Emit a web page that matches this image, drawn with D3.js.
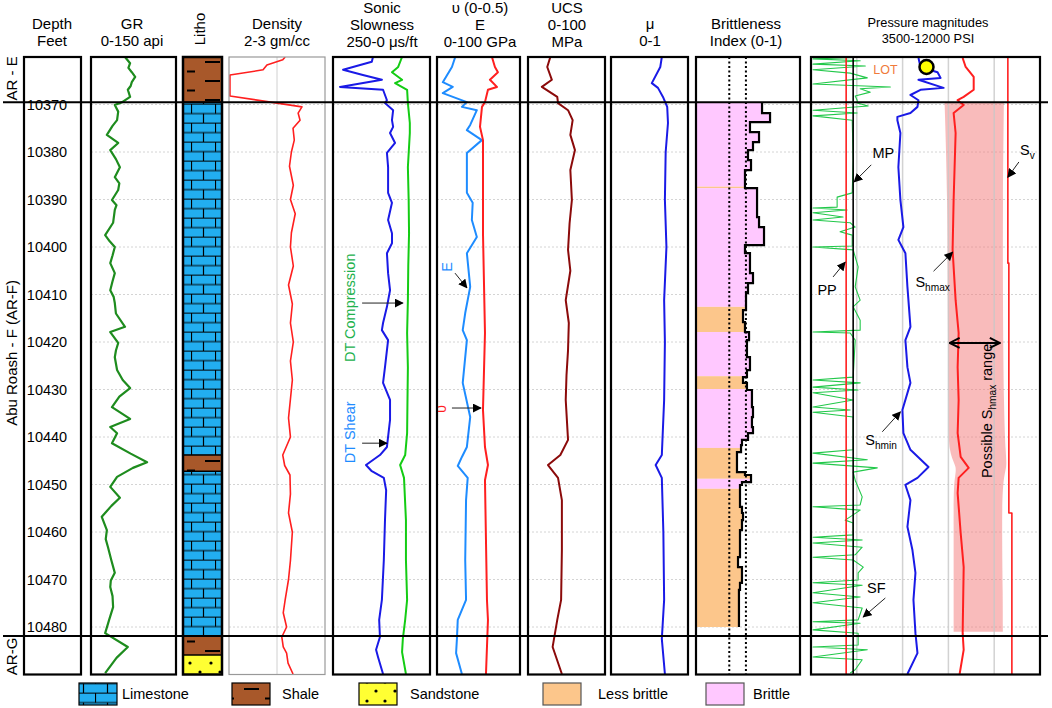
<!DOCTYPE html>
<html><head><meta charset="utf-8">
<script src="https://cdn.jsdelivr.net/npm/d3@7"></script>
<style>body{margin:0;background:#fff} svg{display:block;font-family:Arial,"Liberation Sans",sans-serif}</style>
</head><body><svg id="c" width="1052" height="708"></svg>
<script>
// ---------------- DATA ----------------
const depthDomain = [10360, 10490];
const depthTicks = [10370,10380,10390,10400,10410,10420,10430,10440,10450,10460,10470,10480];
const formationTops = [10369.5, 10481.9];
const zoneNames = ["AR - E", "Abu Roash - F (AR-F)", "AR-G"];
const zoneCenters = [10364.5, 10422.3, 10486.2];

const trackTitles = [
  ["Depth","Feet"], ["GR","0-150 api"], ["Litho"], ["Density","2-3 gm/cc"],
  ["Sonic","Slowness","250-0 μs/ft"], ["υ (0-0.5)","E","0-100 GPa"], ["UCS","0-100","MPa"],
  ["μ","0-1"], ["Brittleness","Index (0-1)"], ["Pressure magnitudes","3500-12000 PSI"]
];

// lithology intervals [top, bottom, type]
const lithoTops    = [10360, 10369.5, 10443.8, 10447.2, 10481.9, 10485.9];
const lithoBottoms = [10369.5, 10443.8, 10447.2, 10481.9, 10485.9, 10490];
const lithoTypes   = ["Shale","Limestone","Shale","Limestone","Shale","Sandstone"];

// GR [depth, api]
const grLog = [[10360,60],[10361.3,69],[10362.3,66],[10363.2,72],[10364.2,78],[10365.3,72],[10366.1,70],[10366.9,65],[10368.4,69],[10369.5,55],[10370.1,42],[10371.5,48],[10373.3,46],[10374.5,38],[10376.4,28],[10378.1,48],[10379.6,34],[10381.5,44],[10383.2,51],[10385.3,42],[10386.6,50],[10388,48],[10390.1,37],[10391.2,45],[10392.2,42],[10394.9,39],[10397.5,25],[10398.8,33],[10400,42],[10401.8,38],[10403.4,34],[10405.5,42],[10407.2,38],[10409.1,34],[10410.5,40],[10411.8,42],[10414,44],[10416.8,60],[10417.9,34],[10420.2,48],[10421.8,44],[10423.2,42],[10425.9,46],[10428,56],[10429.7,69],[10431.5,50],[10433.7,37],[10436.2,69],[10437.9,34],[10439.2,46],[10441.3,37],[10443.5,70],[10445.3,99],[10446.5,74],[10448.4,46],[10450.5,34],[10452.8,51],[10454.5,36],[10456.8,19],[10459.6,28],[10461.5,26],[10463.2,30],[10466,36],[10468.6,42],[10470.2,35],[10471.6,34],[10473.5,38],[10475.8,39],[10478.5,32],[10481.3,25],[10484.2,65],[10486.5,45],[10489.7,25]];

// Density [depth, g/cc]
const densLog = [[10360,2.585],[10360.6,2.56],[10361.7,2.395],[10362.7,2.355],[10363.8,2.01],[10368.2,2.01],[10370.5,2.76],[10371.8,2.72],[10373.3,2.74],[10375,2.667],[10377.5,2.68],[10380,2.65],[10383,2.63],[10387,2.67],[10390,2.64],[10393,2.69],[10397,2.65],[10400,2.64],[10404,2.67],[10408,2.62],[10412,2.66],[10416,2.64],[10420,2.67],[10424,2.64],[10428,2.66],[10432,2.64],[10436,2.62],[10440,2.64],[10443.8,2.56],[10446,2.58],[10448,2.635],[10452,2.64],[10456,2.62],[10460,2.66],[10466,2.64],[10470,2.62],[10474.3,2.585],[10477,2.565],[10480,2.6],[10482.1,2.55],[10484.2,2.565],[10485.5,2.60],[10487.6,2.615],[10489.9,2.667]];

// Sonic slowness [depth, us/ft]
const dtShear = [[10360,147],[10361,150],[10362.7,224],[10363.8,173],[10364.8,124],[10366.3,232],[10366.9,121],[10369.1,111],[10369.7,116],[10371.2,95],[10373.3,98],[10374.7,95],[10376,103],[10378.1,90],[10380.2,111],[10383.2,108],[10388.6,108],[10390.7,98],[10394.3,108],[10397.1,98],[10399.2,98],[10401.3,111],[10405.5,108],[10409.1,103],[10412.6,111],[10416,121],[10417.5,124],[10419.6,108],[10425.3,116],[10428.6,121],[10432.2,103],[10436.4,103],[10442.1,111],[10443.8,129],[10445.9,165],[10447.2,150],[10448.6,119],[10451.2,113],[10457.5,116],[10465.9,119],[10474.3,124],[10478.5,131],[10482.1,129],[10484.8,139],[10486.3,134],[10489.9,121]];
const dtComp = [[10360,72],[10362.1,82],[10363.2,98],[10364.8,72],[10365.5,90],[10366.9,59],[10369.7,57],[10373.9,52],[10376,52],[10383.2,57],[10390,55],[10397.1,54],[10404,56],[10411.2,57],[10418.1,59],[10425.3,57],[10432,58],[10439.2,59],[10443.8,64],[10445.9,77],[10448.6,67],[10457.5,62],[10465.9,62],[10474.3,59],[10478.5,64],[10482.5,70],[10485.3,72],[10489.9,62]];

// Young's modulus E [depth, GPa] and Poisson's ratio [depth, -]
const eLog = [[10360,22],[10362.1,18],[10365.3,7],[10366.3,19],[10367.6,7],[10369.5,36],[10370.5,30],[10371.2,48],[10374.3,40],[10375.4,36],[10377.5,54],[10380.2,36],[10388.6,36],[10390.7,43],[10394.3,42],[10397.9,48],[10401.3,36],[10408.4,40],[10413.9,34],[10417.5,31],[10419.6,36],[10428.6,31],[10435.8,40],[10442.1,36],[10444.2,30],[10446.1,25],[10448.6,37],[10453.3,35],[10465.9,34],[10474.3,35],[10478.5,25],[10482.5,24],[10485.5,23],[10489.9,30]];
const nuLog = [[10360,0.331],[10362.1,0.349],[10363.2,0.367],[10364.8,0.319],[10366.3,0.361],[10366.9,0.307],[10369.5,0.289],[10370.5,0.271],[10374.7,0.259],[10377.5,0.277],[10397.1,0.277],[10418.1,0.289],[10434.3,0.277],[10442.1,0.289],[10445.9,0.307],[10449.1,0.289],[10474.3,0.301],[10478.5,0.307],[10484.2,0.301],[10489.9,0.295]];

// UCS [depth, MPa]
const ucsLog = [[10360,29],[10362.1,25],[10364.8,31],[10366.3,18],[10368.4,38],[10369.7,39],[10371.2,52],[10373.3,58],[10376.4,55],[10379.6,61],[10383.8,55],[10390.1,57],[10395,54],[10400.6,52],[10405,55],[10411.2,49],[10416,53],[10421.7,52],[10427,50],[10432.2,49],[10440.6,52],[10443.8,42],[10445.9,26],[10448.6,39],[10453.3,44],[10463.8,44],[10474.3,43],[10478.5,38],[10484.2,32],[10489.9,44]];

// friction coefficient mu [depth, -]
const muLog = [[10360,0.66],[10362.1,0.64],[10365.5,0.53],[10366.5,0.61],[10368.4,0.675],[10370.5,0.73],[10373.9,0.74],[10380,0.71],[10390.1,0.70],[10400,0.72],[10411.2,0.69],[10420,0.70],[10432.2,0.69],[10443.8,0.66],[10445.9,0.58],[10448.6,0.66],[10460,0.68],[10474.3,0.69],[10482.5,0.66],[10489.9,0.70]];

// Brittleness index steps [depth from, BI]
const biLog = [[10369.5,0.635],[10371.8,0.712],[10373.7,0.519],[10375.8,0.606],[10377.9,0.548],[10379.6,0.5],[10381.7,0.529],[10383.8,0.471],[10387.6,0.587],[10393.7,0.606],[10395.8,0.654],[10399.6,0.471],[10401.3,0.519],[10405.5,0.548],[10407.6,0.5],[10409.7,0.481],[10413.3,0.452],[10415.8,0.471],[10417.9,0.51],[10419.6,0.49],[10423.2,0.519],[10425.9,0.49],[10427.4,0.452],[10428.6,0.49],[10430.1,0.538],[10433.7,0.548],[10435.8,0.538],[10437.9,0.548],[10439.2,0.5],[10440.6,0.442],[10441.7,0.433],[10443.2,0.394],[10447.4,0.471],[10448,0.529],[10449.5,0.442],[10450.1,0.423],[10454.7,0.442],[10456,0.452],[10457.5,0.442],[10459.6,0.423],[10465.3,0.404],[10467.4,0.442],[10470.7,0.423],[10472.2,0.413],[10480,0.413]];
const biCutoffs = [0.32, 0.48];
const biClassTops    = [10369.5,10387.3,10387.6,10412.6,10417.9,10427.2,10429.9,10442.3,10448.8,10450.9];
const biClassBottoms = [10387.3,10387.6,10412.6,10417.9,10427.2,10429.9,10442.3,10448.8,10450.9,10480];
const biClasses      = ["Brittle","Less brittle","Brittle","Less brittle","Brittle","Less brittle","Brittle","Less brittle","Brittle","Less brittle"];

// Pressure magnitudes [depth, psi]
const ppLog = [[10360,4805],[10490,4805]];
const mpLog = [[10360,5065],[10490,5065]];
const svLog = [[10360,10807],[10403.4,10807],[10403.4,10844],[10456,10844],[10456,10956],[10490,10956]];
const shminLog = [[10360.2,7489],[10362.1,7564],[10363.2,8197],[10364.4,8309],[10364.8,7489],[10366.5,8421],[10366.9,7564],[10368,7191],[10369.1,7489],[10370.5,7452],[10371.8,7191],[10372.6,6706],[10373.3,6706],[10376,6818],[10383.2,6743],[10390.1,6818],[10395.8,6930],[10398.5,6743],[10401.3,7004],[10408.4,7079],[10416.8,7191],[10419.6,7004],[10425.3,7079],[10428.6,7191],[10434.3,6892],[10439.2,6930],[10442.7,7191],[10446.3,7862],[10448.6,7452],[10450.1,7004],[10453.3,7191],[10458.9,7079],[10463.8,7265],[10468.6,7377],[10474.3,7303],[10481.3,7377],[10485.5,7452],[10489.9,7079]];
const shmaxLog = [[10360.2,9129],[10362.1,9241],[10364.2,9539],[10366.9,9539],[10368.4,9167],[10369.1,8943],[10370.1,9167],[10371.8,8794],[10376,8868],[10390.1,8794],[10400.6,8756],[10411.2,8868],[10418.1,8980],[10425.3,8943],[10432.2,8980],[10439.2,8943],[10444.2,9055],[10446.5,9353],[10448.6,8980],[10451.8,8943],[10460.2,9055],[10467.4,9167],[10481.3,9129],[10484.8,9167],[10489.9,9017]];
const shmaxRangeLow  = [[10369.5,8458],[10390,8570],[10411,8570],[10435,8607],[10443.8,8607],[10446.3,8943],[10449,8794],[10457.5,8794],[10474,8794],[10481,8794]];
const shmaxRangeHigh = [[10369.5,10658],[10390,10620],[10411,10620],[10435,10658],[10443.8,10732],[10446.3,10770],[10449,10620],[10457.5,10583],[10474,10620],[10481,10620]];
const sfLog = [[10360,5590],[10360.4,3575],[10360.8,5325],[10361.5,3575],[10361.9,5515],[10362.7,3575],[10363.4,4955],[10364.4,5590],[10365.7,3575],[10366.3,6445],[10366.7,5325],[10367.4,5700],[10368.2,5140],[10369.1,5215],[10369.7,5215],[10370.3,5625],[10370.7,4770],[10371.2,3575],[10371.8,5215],[10372.4,3575],[10373.3,5030],[10381.7,5065],[10388.6,5030],[10389.5,4470],[10391.6,4470],[10391.8,3575],[10392.2,4840],[10392.8,3575],[10393.7,4690],[10394.3,3575],[10394.9,4955],[10395.8,5140],[10396.8,4580],[10397.5,5030],[10399.8,5030],[10400,3575],[10400.6,5065],[10404.2,5250],[10408.4,5140],[10411.2,5325],[10412.6,5065],[10415.4,5325],[10417.5,5325],[10417.9,3575],[10418.1,4955],[10419.6,5140],[10427.4,5065],[10428,3575],[10428.6,5325],[10429.5,3575],[10430.1,5250],[10430.7,3575],[10432.2,5065],[10433.7,3575],[10434.3,4955],[10434.8,3575],[10435.8,5065],[10442.7,5065],[10443.4,3575],[10444.8,5590],[10445.5,3575],[10446.5,5960],[10447.4,5065],[10449.1,5140],[10452.6,5400],[10454.3,5325],[10454.7,3575],[10455.4,5325],[10457.5,4770],[10458.1,5065],[10460.6,5065],[10461.1,3575],[10461.7,5400],[10462.3,3575],[10463.2,5400],[10464.8,5140],[10465.3,3575],[10465.9,5065],[10467.4,5440],[10468.6,5250],[10470.1,5250],[10470.7,3575],[10471.2,5400],[10472.8,3575],[10473.7,5325],[10474.9,3575],[10476,5400],[10478.5,5250],[10478.9,3575],[10479.2,5325],[10480.6,3575],[10481.3,5250],[10483.8,5250],[10484.2,3575],[10484.8,5590],[10486.3,3575],[10486.9,5400],[10489,5140],[10489.7,4955]];
const lotPoint = [10362.1, 7787];

const legendItems = ["Limestone","Shale","Sandstone","Less brittle","Brittle"];

// ---------------- LAYOUT ----------------
const svg = d3.select("#c");
const F = 'Arial, "Liberation Sans", sans-serif';
const y = d3.scaleLinear().domain(depthDomain).range([57, 674.5]);
const T = {
  depth:[24,81], gr:[91,176], litho:[183,222], dens:[229,325], sonic:[333,430],
  emod:[437,520], ucs:[528,605], mu:[611,688], bi:[696,800], press:[811,1040]
};
const titleX = [52,132,203,277,382,480,567,650,746,928];
const xGR = d3.scaleLinear([0,150], T.gr);
const xDen = d3.scaleLinear([2,3], T.dens);
const xDT = d3.scaleLinear([250,0], T.sonic);
const xE = d3.scaleLinear([0,100], T.emod);
const xNu = d3.scaleLinear([0,0.5], T.emod);
const xUCS = d3.scaleLinear([0,100], T.ucs);
const xMu = d3.scaleLinear([0,1], T.mu);
const xBI = d3.scaleLinear([0,1], T.bi);
const xP = d3.scaleLinear([3500,12000], T.press);

const defs = svg.append("defs");
// clip paths per track
Object.entries(T).forEach(([k,[a,b]])=>{
  defs.append("clipPath").attr("id","clip-"+k).append("rect")
    .attr("x",a).attr("y",y(depthDomain[0])).attr("width",b-a).attr("height",y(depthDomain[1])-y(depthDomain[0]));
});
// patterns
const lime = defs.append("pattern").attr("id","pLime").attr("patternUnits","userSpaceOnUse")
  .attr("x",191).attr("y",y(10369.5)+1.5).attr("width",24).attr("height",19);
lime.append("rect").attr("width",24).attr("height",19).attr("fill","#22aef0");
lime.append("path").attr("d","M0,0.5H24M0,10H24M0.5,0V10M12.5,10V19").attr("stroke","#000").attr("stroke-width",1.2).attr("fill","none");
const shale = defs.append("pattern").attr("id","pShale").attr("patternUnits","userSpaceOnUse")
  .attr("x",183).attr("y",57).attr("width",39).attr("height",19);
shale.append("rect").attr("width",39).attr("height",19).attr("fill","#a8582a");
shale.append("path").attr("d","M22,5H37M4,14.5H12").attr("stroke","#000").attr("stroke-width",2);
const sand = defs.append("pattern").attr("id","pSand").attr("patternUnits","userSpaceOnUse")
  .attr("x",183).attr("y",y(10485.9)).attr("width",39).attr("height",19);
sand.append("rect").attr("width",39).attr("height",19).attr("fill","#ffff33");
[[7,8],[28,8],[17,17],[37,17]].forEach(p=>sand.append("circle").attr("cx",p[0]).attr("cy",p[1]).attr("r",1.6).attr("fill","#000"));
const lithoFill = {Limestone:"url(#pLime)", Shale:"url(#pShale)", Sandstone:"url(#pSand)"};
const classFill = {"Brittle":"#ffc8ff","Less brittle":"#fcc68b"};

// markers
const mk = defs.append("marker").attr("id","arr").attr("viewBox","0 0 10 10").attr("refX",9).attr("refY",5)
  .attr("markerWidth",9).attr("markerHeight",9).attr("markerUnits","userSpaceOnUse").attr("orient","auto");
mk.append("path").attr("d","M0,0L10,5L0,10z").attr("fill","#000");
const mk2 = defs.append("marker").attr("id","chev").attr("viewBox","0 0 12 12").attr("refX",11).attr("refY",6)
  .attr("markerWidth",12).attr("markerHeight",12).attr("markerUnits","userSpaceOnUse").attr("orient","auto-start-reverse");
mk2.append("path").attr("d","M1,1L11,6L1,11").attr("fill","none").attr("stroke","#000").attr("stroke-width",2);

// ---------------- TITLES ----------------
trackTitles.forEach((lines,i)=>{
  if (i===2){
    svg.append("text").attr("transform",`translate(${titleX[i]+2},29) rotate(-90)`).attr("text-anchor","middle")
      .attr("font-family",F).attr("font-size",15).text(lines[0]);
    return;
  }
  const small = i===9;
  const fs = small?12.8:15;
  const lh = small?16:17;
  const base = lines.length===3?13:(small?27:29);
  lines.forEach((t,j)=>{
    svg.append("text").attr("x",titleX[i]).attr("y",base+j*lh).attr("text-anchor","middle")
      .attr("font-family",F).attr("font-size",fs).text(t);
  });
});

// zone labels
zoneNames.forEach((n,i)=>{
  svg.append("text").attr("transform",`translate(17,${y(zoneCenters[i])}) rotate(-90)`).attr("text-anchor","middle")
    .attr("font-family",F).attr("font-size",15).text(n);
});

// depth labels
depthTicks.forEach(d=>{
  svg.append("text").attr("x",47).attr("y",y(d)).attr("dy","0.36em").attr("text-anchor","middle")
    .attr("font-family",F).attr("font-size",14.5).text(d);
});

// ---------------- LITHO ----------------
lithoTypes.forEach((t,i)=>{
  svg.append("rect").attr("x",T.litho[0]).attr("width",T.litho[1]-T.litho[0])
    .attr("y",y(lithoTops[i])).attr("height",y(lithoBottoms[i])-y(lithoTops[i])).attr("fill",lithoFill[t]);
});
// boundaries between litho units
lithoTops.slice(1).forEach(d=>{
  svg.append("line").attr("x1",T.litho[0]).attr("x2",T.litho[1]).attr("y1",y(d)).attr("y2",y(d)).attr("stroke","#000").attr("stroke-width",1.5);
});

// ---------------- GRIDS ----------------
["gr","dens","sonic","emod","ucs","mu","bi","press"].forEach(k=>{
  depthTicks.forEach(d=>{
    svg.append("line").attr("x1",T[k][0]).attr("x2",T[k][1]).attr("y1",y(d)).attr("y2",y(d))
      .attr("stroke","#d4d4d4").attr("stroke-width",1).attr("stroke-dasharray","2,2");
  });
});
svg.append("line").attr("x1",xDen(2.5)).attr("x2",xDen(2.5)).attr("y1",y(depthDomain[0])).attr("y2",y(depthDomain[1])).attr("stroke","#d0d0d0");

// pressure band
const bandArea = d3.area().y((d,i)=>y(d[0])).x0((d,i)=>xP(shmaxRangeLow[i][1])).x1(d=>xP(d[1])).curve(d3.curveBasis);
svg.append("path").datum(shmaxRangeHigh).attr("d",bandArea).attr("fill","#f47878").attr("opacity",0.5);
// pressure vertical grid
[5200,6900,8600,10300].forEach(p=>{
  svg.append("line").attr("x1",xP(p)).attr("x2",xP(p)).attr("y1",y(depthDomain[0])).attr("y2",y(depthDomain[1]))
    .attr("stroke","#c8c8c8").attr("stroke-width",1.5).attr("opacity",0.8);
});

// ---------------- BRITTLENESS ----------------
const biArea = d3.area().y(d=>y(d[0])).x0(xBI(0)).x1(d=>xBI(d[1])).curve(d3.curveStepBefore);
defs.append("clipPath").attr("id","biClip").append("path").datum(biLog).attr("d",biArea);
const gBI = svg.append("g").attr("clip-path","url(#biClip)");
biClasses.forEach((c,i)=>{
  gBI.append("rect").attr("x",T.bi[0]).attr("width",T.bi[1]-T.bi[0]).attr("y",y(biClassTops[i]))
    .attr("height",Math.max(1,y(biClassBottoms[i])-y(biClassTops[i]))).attr("fill",classFill[c]);
});
biCutoffs.forEach(v=>{
  svg.append("line").attr("x1",xBI(v)).attr("x2",xBI(v)).attr("y1",y(depthDomain[0])).attr("y2",y(depthDomain[1]))
    .attr("stroke","#000").attr("stroke-width",2).attr("stroke-dasharray","2,2.5");
});
svg.append("path").datum(biLog).attr("d",d3.line().y(d=>y(d[0])).x(d=>xBI(d[1])).curve(d3.curveStepBefore))
  .attr("fill","none").attr("stroke","#000").attr("stroke-width",2.2);

// ---------------- CURVES ----------------
function curve(data, xs, color, w, clip){
  svg.append("path").datum(data).attr("clip-path",`url(#clip-${clip})`)
    .attr("d", d3.line().y(d=>y(d[0])).x(d=>xs(d[1])))
    .attr("fill","none").attr("stroke",color).attr("stroke-width",w).attr("stroke-linejoin","round");
}
curve(grLog, xGR, "#1e8c1e", 2.2, "gr");
curve(densLog, xDen, "#ff1f1f", 1.6, "dens");
curve(dtShear, xDT, "#1a1ae6", 2, "sonic");
curve(dtComp, xDT, "#14cc14", 2, "sonic");
curve(eLog, xE, "#1e8cff", 2, "emod");
curve(nuLog, xNu, "#ff1f1f", 2, "emod");
curve(ucsLog, xUCS, "#8b0a0a", 2, "ucs");
curve(muLog, xMu, "#1a1ae6", 2, "mu");
curve(sfLog, xP, "#22c84a", 1.1, "press");
curve(ppLog, xP, "#ff1f1f", 1.6, "press");
curve(mpLog, xP, "#000", 1.6, "press");
curve(svLog, xP, "#ff1f1f", 1.6, "press");
curve(shminLog, xP, "#1a1ae6", 2, "press");
curve(shmaxLog, xP, "#ff1f1f", 2, "press");

// LOT point
svg.append("circle").attr("cx",xP(lotPoint[1])).attr("cy",y(lotPoint[0])).attr("r",7)
  .attr("fill","#ffff00").attr("stroke","#000").attr("stroke-width",2.5);

// ---------------- TRACK BORDERS ----------------
Object.entries(T).forEach(([k,[a,b]])=>{
  if (k==="litho"){
    svg.append("rect").attr("x",a).attr("y",y(depthDomain[0])).attr("width",b-a).attr("height",y(depthDomain[1])-y(depthDomain[0]))
      .attr("fill","none").attr("stroke","#000").attr("stroke-width",2.5);
    return;
  }
  const gray = k==="dens";
  svg.append("rect").attr("x",a).attr("y",y(depthDomain[0])).attr("width",b-a).attr("height",y(depthDomain[1])-y(depthDomain[0]))
    .attr("fill","none").attr("stroke",gray?"#999":"#000").attr("stroke-width",gray?1.2:2.2);
});

// formation boundaries
formationTops.forEach(d=>{
  svg.append("line").attr("x1",3).attr("x2",1048).attr("y1",y(d)).attr("y2",y(d)).attr("stroke","#000").attr("stroke-width",2);
});

// ---------------- ANNOTATIONS ----------------
function arrow(x1,y1,x2,y2,w){
  svg.append("line").attr("x1",x1).attr("y1",y1).attr("x2",x2).attr("y2",y2)
    .attr("stroke","#222").attr("stroke-width",w||1).attr("marker-end","url(#arr)");
}
function label(x,yy,main,sub,opts){
  opts=opts||{};
  const t = svg.append("text").attr("x",x).attr("y",yy).attr("font-family",F).attr("font-size",opts.fs||14.5)
    .attr("fill",opts.color||"#000").attr("text-anchor",opts.anchor||"start");
  if (opts.rot) t.attr("transform",`rotate(-90,${x},${yy})`);
  t.append("tspan").text(main);
  if (sub){ t.append("tspan").attr("dy",4).attr("font-size",(opts.fs||14.5)*0.7).text(sub); }
  if (opts.after){ t.append("tspan").attr("dy",-4).text(opts.after); }
  return t;
}
// sonic track
label(xDT(193), y(10412.8), "DT Compression", null, {rot:true, anchor:"middle", color:"#22b14c"});
arrow(xDT(175), y(10411.8), xDT(70), y(10411.8));
label(xDT(193), y(10439), "DT Shear", null, {rot:true, anchor:"middle", color:"#1e8cff"});
arrow(xDT(175), y(10441.3), xDT(111), y(10441.3));
// E track
label(xE(18.5), y(10404.2), "E", null, {rot:true, anchor:"middle", color:"#1e8cff"});
arrow(xE(21.7), y(10405.5), xE(36), y(10408.6));
label(xNu(0.055), y(10434.1), "υ", null, {rot:true, anchor:"middle", color:"#ff1f1f"});
arrow(xNu(0.09), y(10433.9), xNu(0.265), y(10433.9));
// pressure track
label(xP(5811), y(10363.6), "LOT", null, {fs:12.5, color:"#f07a3a"});
label(xP(6184), y(10380.2)+5, "MP", null, {anchor:"middle"});
arrow(xP(5737), y(10382.7), xP(5103), y(10386.3));
label(xP(4096), y(10409.1)+5, "PP", null, {anchor:"middle"});
arrow(xP(4320), y(10406.3), xP(4768), y(10403.2));
label(xP(7377), y(10407.3)+5, "S", "hmax");
arrow(xP(8048), y(10405.1), xP(8756), y(10401.1));
label(xP(11260), y(10379.6)+5, "S", "v");
arrow(xP(11217), y(10382.1), xP(10807), y(10385.3));
label(xP(5513), y(10440.6)+5, "S", "hmin");
arrow(xP(6147), y(10438.9), xP(6818), y(10434.7));
label(xP(5923), y(10471.8)+5, "SF", null, {anchor:"middle"});
arrow(xP(6259), y(10473.9), xP(5439), y(10477.9));
svg.append("line").attr("x1",xP(8645)).attr("x2",xP(10509)).attr("y1",y(10420.2)).attr("y2",y(10420.2))
  .attr("stroke","#000").attr("stroke-width",2).attr("marker-start","url(#chev)").attr("marker-end","url(#chev)");
label(xP(10200), y(10434.5), "Possible S", "hmax", {rot:true, anchor:"middle", after:" range"});

// ---------------- LEGEND ----------------
const legX = [79,232,359,543,706];
const legTX = [122,282,410,598,753];
const legFill = ["url(#pLime)","url(#pShale)","url(#pSand)","#fcc68b","#ffc8ff"];
legendItems.forEach((n,i)=>{
  svg.append("rect").attr("x",legX[i]).attr("y",683).attr("width",38).attr("height",22)
    .attr("fill",legFill[i]).attr("stroke", i<3?"#000":"#555").attr("stroke-width",1.2);
  svg.append("text").attr("x",legTX[i]).attr("y",699).attr("font-family",F).attr("font-size",14.5).text(n);
});
</script></body></html>
